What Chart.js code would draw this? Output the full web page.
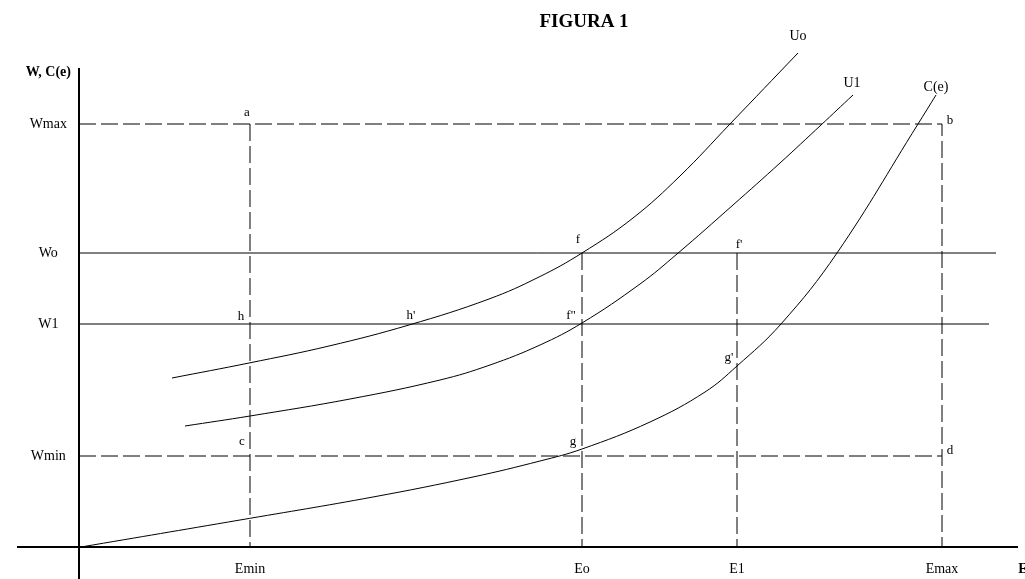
<!DOCTYPE html>
<html>
<head>
<meta charset="utf-8">
<script src="https://cdn.jsdelivr.net/npm/chart.js@4.4.1/dist/chart.umd.min.js"></script>
<style>
  html, body { margin: 0; padding: 0; background: #fff; }
  #wrap { width: 1025px; height: 579px; position: relative; }
</style>
</head>
<body>
<div id="wrap"><canvas id="figura"></canvas></div>
<script>
// Levels (x: effort E, y: W and C(e))
const E_MIN = 17.1, E_O = 50.3, E_1 = 65.8, E_MAX = 86.3;
const W_MAX = 42.3, W_O = 29.4, W_1 = 22.3, W_MIN = 9.1;

const chartTitle = 'FIGURA 1';

// tick marks on the axes (the last one of each is the axis name)
const xTickValues = [E_MIN, E_O, E_1, E_MAX, 94.4];
const xTickLabels = ['Emin', 'Eo', 'E1', 'Emax', 'E'];
const yTickValues = [W_MIN, W_1, W_O, W_MAX, 47.5];
const yTickLabels = ['Wmin', 'W1', 'Wo', 'Wmax', 'W, C(e)'];

// indifference curves and cost curve, [E, value]
const uoCurve = [[9.3, 16.9], [17.0, 18.4], [25.0, 20.1], [33.0, 22.2], [41.0, 24.8], [46.0, 27.0],
  [50.3, 29.4], [55.4, 32.9], [60.1, 37.1], [65.1, 42.3], [71.9, 49.4]];
const u1Curve = [[10.6, 12.1], [17.1, 13.1], [27.1, 14.8], [36.1, 16.7], [41.1, 18.2], [46.1, 20.2],
  [50.3, 22.4], [56.1, 26.3], [59.8, 29.3], [65.4, 34.2], [70.1, 38.4], [74.2, 42.2], [77.4, 45.2]];
const costCurve = [[0.2, 0.0], [16.1, 2.7], [29.4, 5.0], [39.4, 7.0], [46.1, 8.6], [50.3, 9.8],
  [57.1, 12.5], [62.6, 15.5], [65.8, 18.1], [70.2, 22.3], [75.8, 29.4], [83.9, 42.3], [85.7, 45.2]];

// where the axes and the long wage lines end
const xAxisEnds = [-6.2, 93.9];
const yAxisEnds = [-3.2, 47.9];
const woLineEnd = 91.7;
const w1LineEnd = 91.0;

// letters next to the points of the figure
const pointLabels = [
  ['a', 16.8, 43.4], ['b', 87.1, 42.6], ['c', 16.3, 10.5], ['d', 87.1, 9.6],
  ['f', 49.9, 30.7], ["f'", 66.0, 30.2], ['f"', 49.2, 23.1], ['g', 49.4, 10.5],
  ["g'", 65.0, 18.9], ['h', 16.2, 23.0], ["h'", 33.2, 23.1]
];
const curveLabels = [['Uo', 71.9, 51.1], ['U1', 77.3, 46.4], ['C(e)', 85.7, 46.0]];

const FONT = '"Liberation Serif", "DejaVu Serif", serif';
const DASH = [17, 5];

function lineSet(points, extra) {
  return Object.assign({
    data: points.map(p => ({ x: p[0], y: p[1] })),
    borderColor: '#000',
    borderWidth: 1,
    pointRadius: 0,
    fill: false,
    tension: 0
  }, extra);
}

const datasets = [
  // axes
  lineSet([[xAxisEnds[0], 0], [xAxisEnds[1], 0]], { borderWidth: 2, clip: false }),
  lineSet([[0, yAxisEnds[0]], [0, yAxisEnds[1]]], { borderWidth: 2, clip: false }),
  // dashed box a-b-d-c and the verticals at Eo, E1
  lineSet([[0, W_MAX], [E_MAX, W_MAX], [E_MAX, 0]], { borderDash: DASH }),
  lineSet([[0, W_MIN], [E_MAX, W_MIN]], { borderDash: DASH }),
  lineSet([[E_MIN, W_MAX], [E_MIN, 0]], { borderDash: DASH }),
  lineSet([[E_O, W_O], [E_O, 0]], { borderDash: DASH }),
  lineSet([[E_1, W_O], [E_1, 0]], { borderDash: DASH }),
  // solid wage lines
  lineSet([[0, W_O], [woLineEnd, W_O]], {}),
  lineSet([[0, W_1], [w1LineEnd, W_1]], {}),
  // curves
  lineSet(uoCurve, { tension: 0.4 }),
  lineSet(u1Curve, { tension: 0.4 }),
  lineSet(costCurve, { tension: 0.4 })
];

const labelPlugin = {
  id: 'figLabels',
  afterDraw(chart) {
    const { ctx, scales: { x, y } } = chart;
    ctx.save();
    ctx.fillStyle = '#000';
    ctx.textAlign = 'center';
    ctx.textBaseline = 'middle';
    ctx.font = '13px ' + FONT;
    pointLabels.forEach(([text, vx, vy]) => {
      ctx.fillText(text, x.getPixelForValue(vx), y.getPixelForValue(vy));
    });
    ctx.font = '14px ' + FONT;
    curveLabels.forEach(([text, vx, vy]) => {
      ctx.fillText(text, x.getPixelForValue(vx), y.getPixelForValue(vy));
    });
    ctx.font = 'bold 19px ' + FONT;
    ctx.fillText(chartTitle, 584, 22);
    ctx.restore();
  }
};

function tickFont(names) {
  return (c) => ({
    family: FONT,
    size: 14,
    weight: c.tick && c.tick.label === names ? 'bold' : 'normal'
  });
}

new Chart(document.getElementById('figura').getContext('2d'), {
  type: 'line',
  data: { datasets },
  options: {
    responsive: true,
    maintainAspectRatio: false,
    animation: false,
    events: [],
    layout: { padding: { top: 40, right: 0, bottom: 0, left: 0 } },
    plugins: {
      legend: { display: false },
      tooltip: { enabled: false },
      title: { display: false }
    },
    scales: {
      x: {
        type: 'linear',
        min: 0,
        max: 94.6,
        grid: { display: false, drawTicks: false },
        border: { display: false },
        ticks: {
          autoSkip: false,
          maxRotation: 0,
          padding: 14,
          color: '#000',
          font: tickFont('E'),
          callback: (value) => xTickLabels[xTickValues.indexOf(value)]
        },
        afterBuildTicks: (scale) => { scale.ticks = xTickValues.map(v => ({ value: v })); },
        afterFit: (scale) => { scale.height = 32; scale.paddingLeft = 0; scale.paddingRight = 0; }
      },
      y: {
        type: 'linear',
        min: 0,
        max: 50.7,
        grid: { display: false, drawTicks: false },
        border: { display: false },
        ticks: {
          autoSkip: false,
          padding: 8,
          crossAlign: 'center',
          color: '#000',
          font: tickFont('W, C(e)'),
          callback: (value) => yTickLabels[yTickValues.indexOf(value)]
        },
        afterBuildTicks: (scale) => { scale.ticks = yTickValues.map(v => ({ value: v })); },
        afterFit: (scale) => { scale.width = 79; scale.paddingTop = 0; scale.paddingBottom = 0; }
      }
    }
  },
  plugins: [labelPlugin]
});
</script>
</body>
</html>
